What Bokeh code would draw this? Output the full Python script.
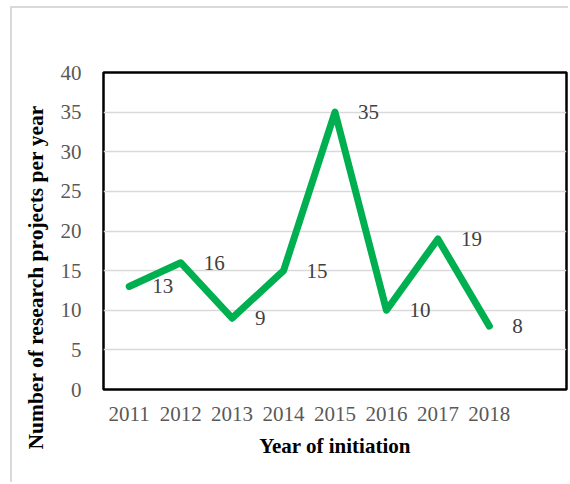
from bokeh.plotting import figure
from bokeh.models import Range1d, FixedTicker, ColumnDataSource, LabelSet, Title
from bokeh.core.properties import value
from bokeh.embed import file_html
from bokeh.resources import INLINE

years = [2011, 2012, 2013, 2014, 2015, 2016, 2017, 2018]
projects = [13, 16, 9, 15, 35, 10, 19, 8]
y_ticks = [0, 5, 10, 15, 20, 25, 30, 35, 40]

FONT = "Liberation Serif"

p = figure(width=558, height=476, output_backend="svg", toolbar_location=None,
           x_range=Range1d(2010.5, 2019.5), y_range=Range1d(0, 40),
           min_border_left=91, min_border_right=4, min_border_top=64, min_border_bottom=95)
p.styles = {"margin-left": "10px", "margin-top": "6px",
            "border-left": "2px solid #d9d9d9", "border-top": "2px solid #d9d9d9"}

p.outline_line_color = "black"
p.outline_line_width = 2.5
p.outline_line_alpha = 1.0

p.xgrid.grid_line_color = None
p.ygrid.grid_line_color = "#d9d9d9"
p.ygrid.grid_line_width = 1.5

p.xaxis.ticker = FixedTicker(ticks=years)
p.yaxis.ticker = FixedTicker(ticks=y_ticks)
for ax in (p.xaxis, p.yaxis):
    ax.axis_line_color = None
    ax.major_tick_line_color = None
    ax.minor_tick_line_color = None
    ax.major_label_text_font = FONT
    ax.major_label_text_font_size = "21px"
    ax.major_label_text_color = "#595959"
p.yaxis.major_label_standoff = 16
p.xaxis.major_label_standoff = 11

p.xaxis.axis_label = "Year of initiation"
p.xaxis.axis_label_text_font = FONT
p.xaxis.axis_label_text_font_style = "bold"
p.xaxis.axis_label_text_font_size = "21px"
p.xaxis.axis_label_text_color = "black"
p.xaxis.axis_label_standoff = 10

src = ColumnDataSource(dict(x=years, y=projects, t=[str(v) for v in projects]))
p.line("x", "y", source=src, line_color="#00B050", line_width=7,
       line_join="round", line_cap="round")

labels = LabelSet(x="x", y="y", text="t", source=src, x_offset=23,
                  text_align="left", text_baseline="middle",
                  text_font=value(FONT), text_font_size="21px", text_color="#404040")
p.add_layout(labels)

ytitle = Title(text="Number of research projects per year", align="left", offset=-60,
               standoff=19, text_font=FONT, text_font_style="bold",
               text_font_size="21.5px", text_color="black")
p.add_layout(ytitle, "left")

open("out.html", "w").write(file_html(p, INLINE))
